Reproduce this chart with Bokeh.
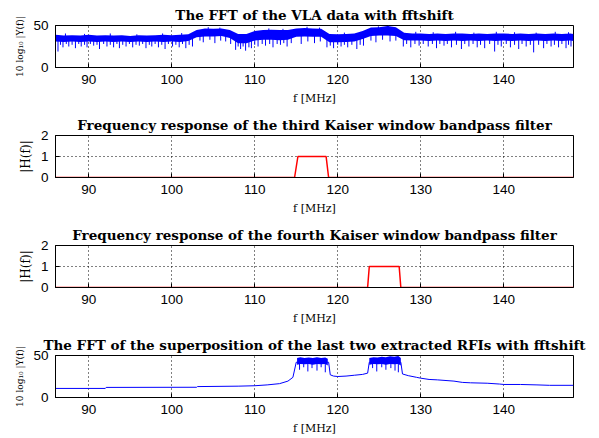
import numpy as np
from bokeh.plotting import figure
from bokeh.layouts import column
from bokeh.models import Range1d, FixedTicker
from bokeh.embed import file_html
from bokeh.resources import INLINE

# ---------------- data ----------------
X_START, X_END = 86.0, 148.4
X_TICKS = [90, 100, 110, 120, 130, 140]

TITLES = [
    "The FFT of the VLA data with fftshift",
    "Frequency response of the third Kaiser window bandpass filter",
    "Frequency response of the fourth Kaiser window bandpass filter",
    "The FFT of the superposition of the last two extracted RFIs with fftshift",
]
X_LABEL = "f [MHz]"
Y_LABEL_DB = "10 log\u2081\u2080 |Y(f)|"
Y_LABEL_H = "|H(f)|"

# Panel 1: VLA spectrum band (upper / lower envelope) + spikes
f_top = [86, 87, 88, 89, 90, 91, 92, 93, 94, 95, 96, 97, 98, 99, 100, 101, 102,
         103, 104, 105, 106, 107, 108, 109, 110, 111, 112, 113, 114,
         115, 116, 117, 118, 119, 120, 121, 122, 123, 124, 125, 126, 127,
         128, 129, 130, 131, 132, 133, 134, 135, 136, 137, 138, 139, 140,
         141, 142, 143, 144, 145, 146, 147, 148, 148.4]
top_hi = [39, 38, 38.5, 38, 39, 38, 38.5, 38, 38.5, 37.5, 38.5, 38, 38.5, 39, 38.5, 39, 39.5,
          44.5, 46.5, 46, 46.5, 44.5, 40, 40,
          43.5, 44.5, 45, 44.5, 44.5,
          46.5, 47, 46.5, 46,
          40, 39.5, 40, 40.5, 43.5,
          47.5, 48, 49.5, 48,
          41.5, 40.5, 40.5, 40, 40.5, 40, 40.5, 40.5, 40, 40.5, 40, 40.5, 40.5, 40, 40.5, 40, 40.5, 40, 40.5, 40, 40.5,
          40]
top_lo = [31, 30.5, 31, 30.5, 31, 30.5, 31, 30.5, 31, 30.5, 31, 30.5, 31, 30.5, 31, 30.5, 31.5,
          36, 37, 37, 37.5, 35, 29, 29,
          32, 33, 33, 32.5, 33,
          36.5, 37, 36.5, 36.5,
          30, 30, 30.5, 31, 34,
          37.5, 38, 38, 37.5,
          32.5, 32, 32, 31.5, 32, 31.5, 32, 31.5, 32, 31.5, 32, 31.5, 32, 31.5, 32, 31.5, 32, 31.5, 32, 31.5, 32,
          31.5]
dn_spike_f = [86.3, 86.6, 86.9, 87.3, 87.6, 88.0, 88.4, 88.8, 89.1, 89.5, 89.8, 90.2, 90.6, 91.0,
              91.3, 91.8, 92.2, 92.6, 93.0, 93.4, 93.7, 94.1, 94.5, 94.9, 95.3, 95.7, 96.1,
              96.5, 96.9, 97.3, 97.6, 98.0, 98.4, 98.8, 99.2, 99.6, 100.1, 100.5, 100.9,
              101.3, 101.7, 102.1, 102.5, 103.4, 103.8, 104.6, 105.2, 105.9, 106.5, 107.1,
              107.7, 108.0, 108.3, 108.6, 108.9, 109.3, 109.6, 110.0, 110.4, 110.9, 111.3,
              111.8, 112.2, 112.7, 113.1, 113.5, 113.9, 114.4, 115.6, 116.4, 117.2, 117.9,
              118.7, 119.1, 119.5, 120.0, 120.4, 120.8, 121.2, 121.7, 122.3, 122.7, 123.1,
              124.0, 124.6, 125.4, 126.3, 127.0, 127.9, 128.3, 128.8, 129.3, 129.8, 130.3,
              130.9, 131.4, 131.9, 132.3, 132.8, 133.2, 133.7, 134.3, 134.9, 135.3, 135.8,
              136.3, 136.8, 137.2, 137.7, 138.3, 138.9, 139.3, 139.7, 140.3, 140.8, 141.3,
              141.8, 142.2, 142.7, 143.2, 143.6, 144.2, 144.8, 145.2, 145.7, 146.1, 146.6,
              147.0, 147.5, 147.8, 148.1]
dn_spike_y = [19, 27, 24, 28, 25, 27, 23, 28, 25, 27, 24, 28, 26, 27,
              22, 28, 25, 27, 24, 28, 23, 27, 25, 28, 24, 27, 26,
              28, 23, 27, 25, 28, 24, 27, 22, 28, 25, 27, 24,
              28, 23, 27, 25, 32, 30, 33, 29, 32, 31, 28,
              21, 25, 22, 25, 20, 24, 23, 27, 25, 28, 26,
              28, 24, 28, 27, 29, 25, 29, 28, 31, 29, 31,
              24, 26, 23, 27, 25, 27, 24, 27, 22, 27, 26,
              32, 30, 33, 31, 32, 25, 28, 24, 28, 26, 28,
              25, 28, 23, 28, 26, 28, 24, 27, 22, 28, 25,
              28, 24, 27, 23, 28, 19, 27, 25, 28, 24, 27,
              22, 28, 25, 27, 18, 27, 23, 28, 25, 27, 24,
              28, 23, 27, 25]
up_spike_f = [87.2, 89.5, 92.6, 95.8, 98.9, 101.2, 104.4, 105.8, 111.7, 113.4, 116.3,
              117.8, 120.8, 124.9, 126.1, 129.4, 131.5, 134.2, 136.4, 139.1, 141.3,
              143.9, 146.2, 147.8]
up_spike_y = [40.5, 40, 40.5, 39.5, 40.5, 41, 48, 47.5, 46.5, 46, 48.5,
              47.5, 41.5, 49, 50, 42.5, 42, 42.5, 41.5, 42.5, 42,
              41.5, 42.5, 42]

# Panels 2 and 3: Kaiser window bandpass filters
f_h3 = [86, 114.8, 115.2, 118.6, 118.9, 148.4]
h3 = [0, 0, 1, 1, 0, 0]
f_h4 = [86, 123.6, 123.8, 127.4, 127.6, 148.4]
h4 = [0, 0, 1, 1, 0, 0]

# Panel 4: superposition of the two extracted RFIs
f_sum = [86, 92, 92.1, 103, 103.1, 108, 110, 111.5, 113, 114,
         114.6, 115.0, 118.9, 119.1, 119.5, 120, 121, 122, 123, 123.6,
         123.8, 127.6, 127.8, 128.5, 129.5, 130, 131, 132, 134, 135,
         136, 138, 139.5, 140, 142, 144, 145.5, 148.4]
y_sum = [10.8, 10.8, 12, 12.2, 13, 13.5, 14, 15, 16.5, 19.5,
         24, 42, 42, 27, 25.5, 25, 25.5, 26.5, 27.5, 29,
         42, 42, 28, 26, 24, 23, 21.5, 21, 19.5, 18,
         17.5, 17, 16, 15.5, 15.5, 15, 14.5, 14.5]
band1_f = [115.1, 115.5, 116, 116.5, 117, 117.5, 118, 118.5, 118.8]
band1_hi = [47, 48, 47, 47.5, 47, 48, 47, 47.5, 46]
band1_lo = [39, 40, 39.5, 40, 39, 40, 39.5, 40, 38]
band2_f = [123.8, 124.3, 124.8, 125.3, 125.8, 126.3, 126.8, 127.3, 127.6]
band2_hi = [47, 48, 47.5, 48.5, 48, 49, 48.5, 49.5, 47]
band2_lo = [39, 40, 39.5, 40, 39, 40, 39.5, 40, 38]
rfi_spike_f = [115.4, 115.9, 116.4, 116.9, 117.5, 118.0, 118.5,
               124.2, 124.7, 125.3, 125.8, 126.4, 126.9, 127.3]
rfi_spike_y = [33, 36, 31, 35, 32, 36, 30, 35, 31, 36, 33, 35, 32, 30]

BLUE = "#0000ff"
RED = "#ff0000"


def panel(title, ylabel, ylabel_size, yr, yticks, top, bottom):
    p = figure(frame_width=518, frame_height=42, output_backend="svg", toolbar_location=None,
               x_range=Range1d(X_START, X_END), y_range=Range1d(*yr),
               min_border_left=55, min_border_right=22, min_border_top=top,
               min_border_bottom=bottom, background_fill_color="white",
               border_fill_color="white")
    p.title.text = title
    p.title.align = "center"
    p.title.text_font = "DejaVu Serif"
    p.title.text_font_size = "13.5px"
    p.title.text_font_style = "bold"
    p.title.text_color = "black"
    p.title.standoff = 6
    p.title.offset = 0
    p.outline_line_color = "black"
    p.outline_line_alpha = 1
    p.outline_line_width = 1
    p.xaxis.ticker = FixedTicker(ticks=X_TICKS)
    p.yaxis.ticker = FixedTicker(ticks=yticks)
    for ax in p.axis:
        ax.major_tick_in = 4
        ax.major_tick_out = 0
        ax.minor_tick_line_color = None
        ax.axis_line_color = "black"
        ax.major_tick_line_color = "black"
        ax.major_label_text_font = "Liberation Sans"
        ax.major_label_text_font_size = "13.5px"
        ax.major_label_text_color = "black"
        ax.major_label_standoff = 7
        ax.axis_label_text_font = "DejaVu Serif"
        ax.axis_label_text_font_style = "normal"
        ax.axis_label_text_color = "black"
    p.xaxis.axis_label = X_LABEL
    p.xaxis.axis_label_text_font_size = "11px"
    p.xaxis.axis_label_standoff = 5
    p.yaxis.axis_label = ylabel
    p.yaxis.axis_label_text_font_size = ylabel_size
    p.yaxis.axis_label_standoff = 5
    p.xgrid.ticker = FixedTicker(ticks=X_TICKS)
    p.ygrid.ticker = FixedTicker(ticks=yticks)
    for g in (p.xgrid, p.ygrid):
        g.grid_line_color = "black"
        g.grid_line_alpha = 1
        g.grid_line_dash = "1 3"
        g.grid_line_width = 1
    return p


# Panel 1
p1 = panel(TITLES[0], Y_LABEL_DB, "9px", (0, 50), [0, 50], 25, 44)
p1.varea(x=f_top, y1=top_lo, y2=top_hi, color=BLUE)
dn0 = np.interp(dn_spike_f, f_top, top_lo) + 1
p1.segment(x0=dn_spike_f, y0=dn0, x1=dn_spike_f, y1=dn_spike_y, line_color=BLUE, line_width=1)
up0 = np.interp(up_spike_f, f_top, top_hi) - 1
p1.segment(x0=up_spike_f, y0=up0, x1=up_spike_f, y1=up_spike_y, line_color=BLUE, line_width=1)

# Panel 2
p2 = panel(TITLES[1], Y_LABEL_H, "12px", (0, 2), [0, 1, 2], 24, 44)
p2.line(f_h3, h3, line_color=RED, line_width=1.5)

# Panel 3
p3 = panel(TITLES[2], Y_LABEL_H, "12px", (0, 2), [0, 1, 2], 24, 44)
p3.line(f_h4, h4, line_color=RED, line_width=1.5)

# Panel 4
p4 = panel(TITLES[3], Y_LABEL_DB, "9px", (0, 50), [0, 50], 24, 36)
p4.line(f_sum, y_sum, line_color=BLUE, line_width=1)
p4.varea(x=band1_f, y1=band1_lo, y2=band1_hi, color=BLUE)
p4.varea(x=band2_f, y1=band2_lo, y2=band2_hi, color=BLUE)
rfi0 = np.interp(rfi_spike_f, band1_f + band2_f, band1_lo + band2_lo) + 1
p4.segment(x0=rfi_spike_f, y0=rfi0, x1=rfi_spike_f, y1=rfi_spike_y, line_color=BLUE, line_width=1)

layout = column(p1, p2, p3, p4, spacing=0)
open("out.html", "w").write(file_html(layout, INLINE))
